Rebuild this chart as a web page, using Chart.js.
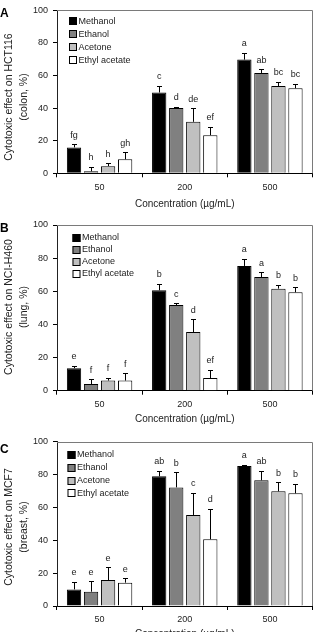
<!DOCTYPE html>
<html><head><meta charset="utf-8">
<script src="https://cdn.jsdelivr.net/npm/chart.js@4"></script>
<style>
html,body{margin:0;padding:0;background:#fff;width:317px;height:632px;overflow:hidden;position:relative}
canvas{position:absolute;left:0}
</style></head><body>
<canvas id="cA" width="317" height="212" style="top:0px;width:317px;height:212px"></canvas>
<canvas id="cB" width="317" height="217" style="top:210px;width:317px;height:217px"></canvas>
<canvas id="cC" width="317" height="222" style="top:420px;width:317px;height:222px"></canvas>
<script>
const categories = ['50', '200', '500'];
const seriesNames = ['Methanol', 'Ethanol', 'Acetone', 'Ethyl acetate'];
const seriesColors = ['#000000', '#808080', '#c0c0c0', '#ffffff'];
const yTicks = [0, 20, 40, 60, 80, 100];

// Panel A: HCT116 (colon)
const A_methanol = [15.9, 49.6, 69.8];
const A_ethanol = [1.2, 40.1, 61.6];
const A_acetone = [4.4, 31.6, 53.6];
const A_ethylAcetate = [8.6, 23.4, 52.2];
const A_methanolErr = [1.9, 4.1, 4.3];
const A_ethanolErr = [2.8, 0.9, 2.4];
const A_acetoneErr = [1.7, 8.2, 2.7];
const A_ethylAcetateErr = [4.3, 5.1, 2.9];
const A_methanolSig = ['fg', 'c', 'a'];
const A_ethanolSig = ['h', 'd', 'ab'];
const A_acetoneSig = ['h', 'de', 'bc'];
const A_ethylAcetateSig = ['gh', 'ef', 'bc'];

// Panel B: NCI-H460 (lung)
const B_methanol = [13.6, 60.6, 75.3];
const B_ethanol = [4.0, 51.7, 68.6];
const B_acetone = [6.1, 35.4, 61.6];
const B_ethylAcetate = [6.1, 7.6, 59.4];
const B_methanolErr = [1.5, 3.8, 4.2];
const B_ethanolErr = [2.9, 1.2, 2.8];
const B_acetoneErr = [1.6, 7.7, 2.4];
const B_ethylAcetateErr = [4.3, 4.9, 3.0];
const B_methanolSig = ['e', 'b', 'a'];
const B_ethanolSig = ['f', 'c', 'a'];
const B_acetoneSig = ['f', 'd', 'b'];
const B_ethylAcetateSig = ['f', 'ef', 'b'];

// Panel C: MCF7 (breast)
const C_methanol = [10.1, 78.9, 85.2];
const C_ethanol = [8.7, 72.2, 76.5];
const C_acetone = [15.8, 55.4, 69.8];
const C_ethylAcetate = [14.2, 40.6, 68.6];
const C_methanolErr = [4.5, 3.3, 0.8];
const C_ethanolErr = [6.5, 9.1, 5.9];
const C_acetoneErr = [7.7, 13.6, 5.5];
const C_ethylAcetateErr = [2.8, 18.6, 5.8];
const C_methanolSig = ['e', 'ab', 'a'];
const C_ethanolSig = ['e', 'b', 'ab'];
const C_acetoneSig = ['e', 'c', 'b'];
const C_ethylAcetateSig = ['e', 'd', 'b'];

const xTitle = 'Concentration (\u00b5g/mL)';
const FONT = "'Liberation Sans', Arial, Helvetica, sans-serif";

const overlay = {
  id: 'overlay',
  afterDatasetsDraw(chart, args, o) {
    const ctx = chart.ctx;
    const ys = chart.scales.y;
    const ca = chart.chartArea;
    ctx.save();
    // plot frame (top / right)
    ctx.strokeStyle = '#7a7a7a';
    ctx.lineWidth = 1;
    ctx.beginPath();
    ctx.moveTo(ca.left, Math.round(ca.top) + 0.5);
    ctx.lineTo(Math.round(ca.right) - 0.5, Math.round(ca.top) + 0.5);
    ctx.lineTo(Math.round(ca.right) - 0.5, ca.bottom);
    ctx.stroke();
    // error bars + significance letters
    chart.data.datasets.forEach((ds, di) => {
      const meta = chart.getDatasetMeta(di);
      meta.data.forEach((bar, i) => {
        const v = ds.data[i], e = ds.errors[i];
        const yTop = ys.getPixelForValue(v);
        const yErr = ys.getPixelForValue(v + e);
        const cx = Math.round(bar.x) + 0.5;
        const ye = Math.round(yErr) + 0.5;
        ctx.strokeStyle = '#000';
        ctx.lineWidth = 1;
        ctx.beginPath();
        ctx.moveTo(cx, yTop);
        ctx.lineTo(cx, ye);
        ctx.moveTo(cx - 2.5, ye);
        ctx.lineTo(cx + 2.5, ye);
        ctx.stroke();
        ctx.fillStyle = '#222';
        ctx.font = '9px ' + FONT;
        ctx.textAlign = 'center';
        ctx.textBaseline = 'middle';
        ctx.fillText(ds.letters[i], bar.x, yErr - 9);
      });
    });
    // legend inside plot
    ctx.font = '9px ' + FONT;
    ctx.textAlign = 'left';
    ctx.textBaseline = 'middle';
    chart.data.datasets.forEach((ds, di) => {
      const cy = ca.top + o.legTop + di * o.legStep;
      const bx = o.legX;
      ctx.fillStyle = ds.backgroundColor;
      ctx.fillRect(bx, Math.round(cy - 4), 8, 8);
      ctx.strokeStyle = '#000';
      ctx.strokeRect(bx + 0.5, Math.round(cy - 4) + 0.5, 7, 7);
      ctx.fillStyle = '#222';
      ctx.fillText(ds.label, bx + 9.5, cy);
    });
    // y-axis title (two lines, rotated)
    ctx.fillStyle = '#222';
    ctx.font = '10.5px ' + FONT;
    ctx.textAlign = 'center';
    ctx.textBaseline = 'middle';
    o.yTitle.forEach((t, k) => {
      ctx.save();
      ctx.translate(o.yTitleX[k], o.yTitleY);
      ctx.rotate(-Math.PI / 2);
      ctx.fillText(t, 0, 0);
      ctx.restore();
    });
    // panel letter
    ctx.font = 'bold 12px ' + FONT;
    ctx.fillStyle = '#000';
    ctx.textAlign = 'left';
    ctx.textBaseline = 'alphabetic';
    ctx.fillText(o.panel, 0, o.panelY);
    ctx.restore();
  }
};

function makeChart(id, p) {
  const series = [p.m, p.e, p.a, p.ea];
  const errs = [p.mE, p.eE, p.aE, p.eaE];
  const sigs = [p.mS, p.eS, p.aS, p.eaS];
  const H = document.getElementById(id).height;
  return new Chart(document.getElementById(id), {
    type: 'bar',
    data: {
      labels: categories,
      datasets: seriesNames.map((n, i) => ({
        label: n,
        data: series[i],
        errors: errs[i],
        letters: sigs[i],
        backgroundColor: seriesColors[i],
        borderColor: '#000',
        borderWidth: 1,
        borderSkipped: 'bottom',
        categoryPercentage: 0.8,
        barPercentage: 0.84
      }))
    },
    options: {
      responsive: false,
      animation: false,
      events: [],
      layout: { padding: { top: p.plotTop, right: 4.5, left: 0, bottom: 0 } },
      plugins: {
        legend: { display: false },
        tooltip: { enabled: false },
        overlay: {
          legX: p.legX, legTop: p.legTop, legStep: p.legStep,
          yTitle: p.yTitle, yTitleX: [9.3, 23.8], yTitleY: p.yTitleY,
          panel: p.panel, panelY: p.panelY
        }
      },
      scales: {
        x: {
          offset: true,
          grid: { display: true, drawOnChartArea: false, drawTicks: true, tickLength: 4, color: '#000', offset: true },
          border: { display: true, color: '#000', width: 1 },
          ticks: { color: '#222', font: { family: FONT, size: 9 }, padding: p.xTickPad, maxRotation: 0 },
          title: { display: true, text: xTitle, color: '#222', font: { family: FONT, size: 10 }, padding: { top: 0, bottom: 2 } },
          afterFit: s => { s.height = H - p.plotBottom; }
        },
        y: {
          min: 0, max: 100,
          afterBuildTicks: s => { s.ticks = yTicks.map(v => ({ value: v })); },
          grid: { display: true, drawOnChartArea: false, drawTicks: true, tickLength: 4, color: '#000' },
          border: { display: true, color: '#222', width: 1 },
          ticks: { color: '#222', font: { family: FONT, size: 9 }, padding: 5 },
          afterFit: s => { s.width = 57; }
        }
      }
    },
    plugins: [overlay]
  });
}

makeChart('cA', {
  m: A_methanol, e: A_ethanol, a: A_acetone, ea: A_ethylAcetate,
  mE: A_methanolErr, eE: A_ethanolErr, aE: A_acetoneErr, eaE: A_ethylAcetateErr,
  mS: A_methanolSig, eS: A_ethanolSig, aS: A_acetoneSig, eaS: A_ethylAcetateSig,
  plotTop: 9.5, plotBottom: 173.3, xTickPad: 5,
  legX: 69, legTop: 11, legStep: 13,
  yTitle: ['Cytotoxic effect on HCT116', '(colon, %)'], yTitleY: 97,
  panel: 'A', panelY: 16.7
});
makeChart('cB', {
  m: B_methanol, e: B_ethanol, a: B_acetone, ea: B_ethylAcetate,
  mE: B_methanolErr, eE: B_ethanolErr, aE: B_acetoneErr, eaE: B_ethylAcetateErr,
  mS: B_methanolSig, eS: B_ethanolSig, aS: B_acetoneSig, eaS: B_ethylAcetateSig,
  plotTop: 15, plotBottom: 180.7, xTickPad: 4,
  legX: 72.5, legTop: 12.5, legStep: 12.1,
  yTitle: ['Cytotoxic effect on NCI-H460', '(lung, %)'], yTitleY: 97,
  panel: 'B', panelY: 22
});
makeChart('cC', {
  m: C_methanol, e: C_ethanol, a: C_acetone, ea: C_ethylAcetate,
  mE: C_methanolErr, eE: C_ethanolErr, aE: C_acetoneErr, eaE: C_ethylAcetateErr,
  mS: C_methanolSig, eS: C_ethanolSig, aS: C_acetoneSig, eaS: C_ethylAcetateSig,
  plotTop: 21.7, plotBottom: 186, xTickPad: 4,
  legX: 67.5, legTop: 13.3, legStep: 12.8,
  yTitle: ['Cytotoxic effect on MCF7', '(breast, %)'], yTitleY: 107,
  panel: 'C', panelY: 33
});
</script>
</body></html>
